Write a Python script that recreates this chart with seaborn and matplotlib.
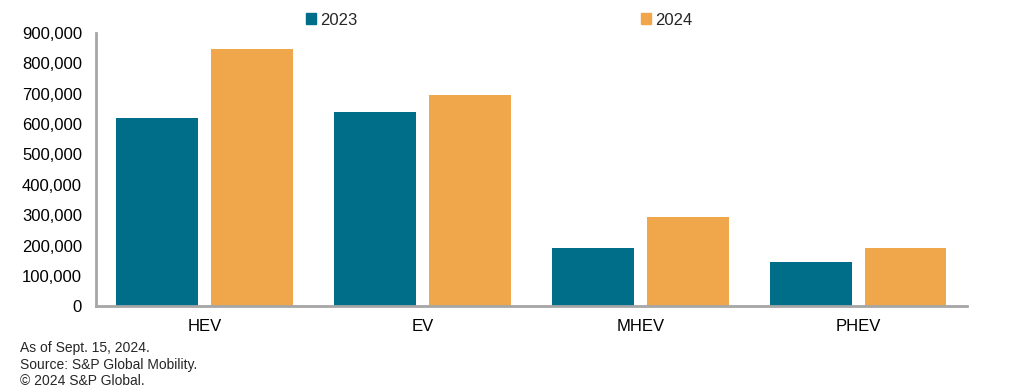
import pandas as pd
import matplotlib
matplotlib.use('Agg')
import matplotlib.pyplot as plt
import seaborn as sns
from matplotlib.ticker import FuncFormatter

# Data
categories = ['HEV', 'EV', 'MHEV', 'PHEV']
sales_2023 = [620000, 640000, 192000, 146000]
sales_2024 = [848000, 696000, 295000, 192000]
years = ['2023', '2024']
colors = ['#006e89', '#f0a74b']

df = pd.DataFrame({
    'type': categories * 2,
    'year': [years[0]] * 4 + [years[1]] * 4,
    'sales': sales_2023 + sales_2024,
})

sns.set_style('white')
plt.rcParams['font.family'] = ['Liberation Sans', 'DejaVu Sans']

fig = plt.figure(figsize=(10.21, 3.86), dpi=100)
ax = fig.add_axes([0.094, 0.206, 0.853, 0.709])

sns.barplot(data=df, x='type', y='sales', hue='year', palette=colors,
            width=0.872, gap=0.137, saturation=1, linewidth=0,
            ax=ax, legend=False)

ax.set_ylim(0, 900000)
ax.set_xlim(-0.5, 3.5)
ax.set_yticks(range(0, 900001, 100000))
ax.yaxis.set_major_formatter(FuncFormatter(lambda v, p: f'{int(v):,}'))
ax.tick_params(axis='both', length=0, labelsize=12, colors='black')
ax.tick_params(axis='x', pad=9)
ax.tick_params(axis='y', pad=10)
ax.set_xlabel('')
ax.set_ylabel('')

for side in ['top', 'right']:
    ax.spines[side].set_visible(False)
for side in ['left', 'bottom']:
    ax.spines[side].set_color('#a6a6a6')
    ax.spines[side].set_linewidth(2)

# legend
handles = [plt.Rectangle((0, 0), 1, 1, color=c) for c in colors]
fig.legend(handles, years, loc='center', bbox_to_anchor=(0.489, 0.948), ncol=2,
           frameon=False, fontsize=12, handlelength=0.6, handleheight=0.6,
           handletextpad=0.25, columnspacing=17)

fig.text(0.02, 0.087, 'As of Sept. 15, 2024.', fontsize=10)
fig.text(0.02, 0.045, 'Source: S&P Global Mobility.', fontsize=10)
fig.text(0.02, 0.003, '\u00a9 2024 S&P Global.', fontsize=10)

fig.savefig('out.png', dpi=100)
